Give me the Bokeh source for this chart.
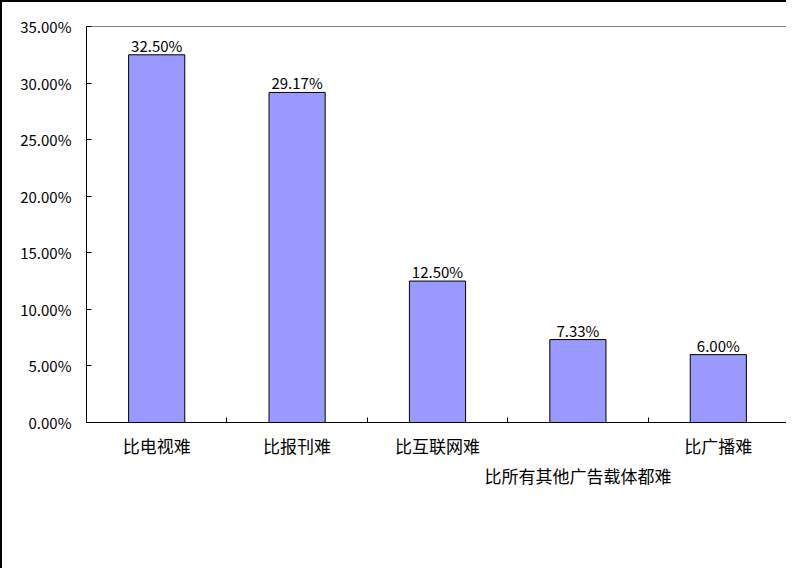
from bokeh.plotting import figure
from bokeh.models import Range1d, FixedTicker, PrintfTickFormatter, ColumnDataSource
from bokeh.core.properties import value
from bokeh.embed import file_html
from bokeh.resources import INLINE

categories = ["比电视难", "比报刊难", "比互联网难", "比所有其他广告载体都难", "比广播难"]
values = [32.50, 29.17, 12.50, 7.33, 6.00]
y_ticks = [0, 5, 10, 15, 20, 25, 30, 35]

FONT = "Noto Sans CJK SC"

xs = list(range(1, len(categories) + 1))
labels = ["%.2f%%" % v for v in values]
src = ColumnDataSource(dict(x=xs, top=values, label=labels))

p = figure(width=786, height=568, output_backend="svg", toolbar_location=None,
           x_range=Range1d(0.5, len(categories) + 0.5), y_range=Range1d(0, 35),
           min_border_left=84, min_border_top=24, min_border_bottom=148, min_border_right=0)
p.styles = {"border-top": "2px solid black", "border-left": "2px solid black"}

p.vbar(x="x", top="top", bottom=0, width=0.4, source=src,
       fill_color="#9999FF", line_color="black", line_width=1)
p.text(x="x", y="top", text="label", source=src, text_align="center",
       text_baseline="bottom", text_font=value(FONT), text_font_size="15px",
       text_color="black", y_offset=1)

p.grid.visible = False
p.outline_line_color = "#808080"
p.outline_line_width = 1
p.background_fill_color = "white"
p.border_fill_color = "white"

# y axis
ya = p.yaxis[0]
ya.ticker = FixedTicker(ticks=y_ticks, minor_ticks=[])
ya.formatter = PrintfTickFormatter(format="%.2f%%")
ya.major_tick_in = 5
ya.major_tick_out = 0
ya.minor_tick_line_color = None
ya.axis_line_color = "black"
ya.major_tick_line_color = "black"
ya.major_label_text_font = FONT
ya.major_label_text_font_size = "15px"
ya.major_label_text_color = "black"
ya.major_label_standoff = 15

# x axis
xa = p.xaxis[0]
bounds = [x + 0.5 for x in xs[:-1]]
xa.ticker = FixedTicker(ticks=xs, minor_ticks=bounds)
overrides = {}
for i, c in enumerate(categories):
    overrides[xs[i]] = ("\n" + c) if i == 3 else c
xa.major_label_overrides = overrides
xa.major_tick_line_color = None
xa.minor_tick_in = 5
xa.minor_tick_out = 0
xa.minor_tick_line_color = "black"
xa.axis_line_color = "black"
xa.major_label_text_font = FONT
xa.major_label_text_font_size = "17px"
xa.major_label_text_color = "black"
xa.major_label_standoff = 4

open("out.html", "w").write(file_html(p, INLINE))
